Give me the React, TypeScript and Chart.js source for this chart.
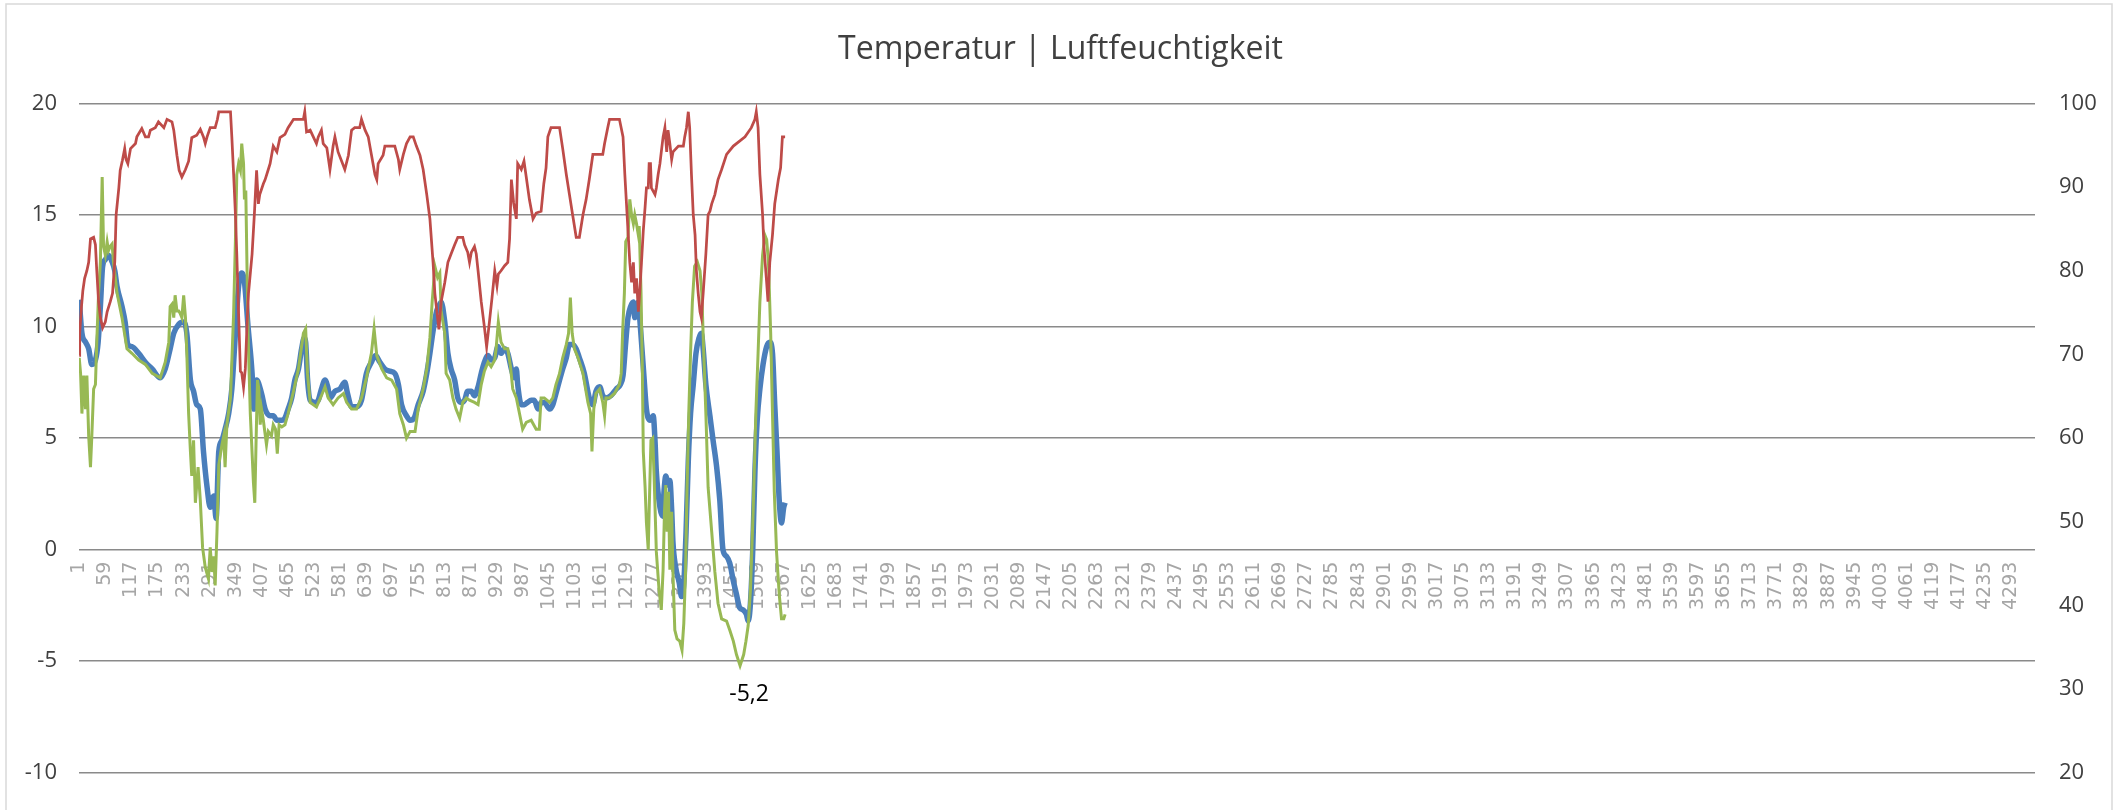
import React, { useEffect, useRef } from "react";
import { Chart, registerables } from "chart.js";

Chart.register(...registerables);

const TITLE = "Temperatur | Luftfeuchtigkeit";
const N_CATEGORIES = 4345;

const X_TICKS = [
  1, 59, 117, 175, 233, 291, 349, 407, 465, 523, 581, 639, 697, 755, 813, 871, 929, 987, 1045, 1103,
  1161, 1219, 1277, 1335, 1393, 1451, 1509, 1567, 1625, 1683, 1741, 1799, 1857, 1915, 1973, 2031,
  2089, 2147, 2205, 2263, 2321, 2379, 2437, 2495, 2553, 2611, 2669, 2727, 2785, 2843, 2901, 2959,
  3017, 3075, 3133, 3191, 3249, 3307, 3365, 3423, 3481, 3539, 3597, 3655, 3713, 3771, 3829, 3887,
  3945, 4003, 4061, 4119, 4177, 4235, 4293,
];

const LEFT_TICKS = [-10, -5, 0, 5, 10, 15, 20];
const RIGHT_TICKS = [20, 30, 40, 50, 60, 70, 80, 90, 100];

// Temperatur (blau)
const BLUE_X = [
  1, 7, 15, 22, 29, 37, 43, 48, 53, 59, 66, 74, 80, 85, 96, 103, 109, 118, 133, 148,
  163, 181, 192, 203, 211, 222, 233, 240, 248, 255, 262, 270, 277, 285, 292, 300, 305, 311, 318, 325,
  333, 340, 348, 355, 362, 368, 376, 385, 389, 395,
  406, 414, 425, 432, 440, 451, 458, 465, 473, 480, 488, 495, 501, 504, 508, 514, 525, 532, 539, 547,
  553, 558, 569, 580, 591, 597, 606, 617, 628, 639, 650, 659, 669, 680, 691, 702, 710, 717, 728, 736,
  745, 754, 765, 773, 780, 787, 795, 802,
  805, 813, 820, 827, 835, 842, 850, 857, 864, 872, 879, 887, 894, 901, 909, 916, 924, 931, 938, 946,
  953, 961, 968, 972, 975, 983, 990, 997, 1005, 1012, 1020, 1027, 1034, 1046, 1053, 1060, 1068, 1075, 1083, 1090,
  1097, 1105, 1112, 1123, 1134, 1142, 1149, 1157, 1164, 1171, 1182, 1194,
  1203, 1209, 1215, 1220, 1226, 1232, 1235, 1239, 1243, 1246, 1250, 1255, 1261, 1269, 1276, 1280, 1283, 1291, 1297, 1300,
  1304, 1309, 1313, 1317, 1320, 1326, 1334, 1339, 1344, 1349, 1354, 1359, 1365, 1371, 1378, 1383, 1387, 1393, 1402, 1409,
  1417, 1424, 1431, 1439, 1446, 1454, 1461, 1468, 1476, 1483, 1487, 1492, 1497, 1502, 1507, 1513, 1520, 1528, 1535, 1541,
  1546, 1551, 1556, 1561, 1566, 1569,
];
const BLUE_Y = [
  11.2, 9.7, 9.3, 9.0, 8.3, 8.5, 9.3, 10.9, 12.7, 13.0, 13.2, 12.9, 12.5, 11.8, 10.9, 10.2, 9.2, 9.1, 8.8, 8.4,
  8.1, 7.7, 8.1, 9.0, 9.7, 10.1, 10.2, 9.7, 7.6, 7.1, 6.5, 6.3, 4.4, 2.8, 1.9, 2.4, 1.4, 4.4, 4.9, 5.4,
  6.1, 7.2, 9.7, 11.8, 12.4, 12.0, 10.0, 7.9, 6.3, 7.6,
  7.0, 6.3, 6.0, 6.0, 5.8, 5.8, 5.9, 6.3, 6.8, 7.6, 8.1, 9.0, 9.5, 9.3, 7.7, 6.7, 6.6, 6.7, 7.2, 7.6,
  7.3, 6.8, 7.1, 7.2, 7.5, 7.0, 6.4, 6.4, 6.7, 7.9, 8.4, 8.7, 8.4, 8.1, 8.0, 7.9, 7.4, 6.5, 6.0, 5.8,
  5.9, 6.5, 7.1, 7.9, 8.8, 9.8, 10.7, 11.0,
  11.1, 10.2, 8.8, 8.1, 7.6, 6.8, 6.6, 6.7, 7.1, 7.1, 6.9, 7.3, 7.9, 8.4, 8.7, 8.5, 8.6, 9.1, 8.8, 9.0,
  8.8, 8.1, 7.7, 8.1, 7.4, 6.5, 6.5, 6.6, 6.7, 6.7, 6.3, 6.6, 6.6, 6.3, 6.5, 7.0, 7.6, 8.1, 8.6, 9.2,
  9.2, 9.0, 8.6, 7.9, 6.8, 6.5, 7.1, 7.3, 6.9, 6.8, 6.9, 7.2,
  7.4, 7.8, 9.3, 10.4, 10.9, 11.1, 10.4, 10.7, 11.1, 10.4, 9.3, 7.9, 6.3, 5.8, 6.0, 4.9, 3.5, 1.9, 1.5, 2.6,
  3.3, 2.9, 3.1, 1.8, 0.3, -0.8, -1.5, -2.1, -1.5, 0.8, 4.0, 6.1, 7.4, 8.8, 9.5, 9.7, 9.0, 7.4, 6.0, 4.9,
  3.7, 2.2, 0.0, -0.3, -0.6, -1.4, -2.0, -2.6, -2.7, -2.9, -3.2, -2.4, -0.1, 3.5, 5.8, 7.2, 8.3, 9.1, 9.3, 8.8,
  6.5, 4.4, 2.2, 1.2, 1.9, 2.1,
];

// Temperatur (grün)
const GREEN_X = [
  1, 4, 7, 11, 15, 18, 22, 26, 29, 33, 37, 40, 44, 48, 52, 55, 59, 63, 66, 70,
  74, 77, 85, 96, 107, 118, 133, 148, 163, 181, 192, 200, 203, 207, 211, 214, 218, 222, 225, 229,
  233, 237, 240, 244, 248, 251, 255, 259, 265, 270, 275, 281, 288, 292, 296, 300, 303, 307, 311, 318,
  322, 325, 329, 337, 344, 348, 351, 355, 359, 362, 366, 368, 371, 376, 381, 388, 391, 394, 397, 400,
  403, 406, 410, 417, 421, 428, 432, 437, 441, 445, 451, 458, 465, 477, 488, 499, 504, 508, 514, 528,
  539, 547, 554, 565, 576, 588, 595, 606, 617, 628, 639, 650, 656, 662, 673, 684, 695, 706, 713, 721,
  728, 736, 747, 754, 765, 773, 780, 785, 791, 797, 802,
  805, 813, 816, 824, 831, 838, 846, 853, 861, 868, 879, 887, 894, 901, 909, 916, 924, 927, 932, 938,
  946, 953, 959, 964, 972, 979, 986, 994, 1005, 1016, 1023, 1027, 1034, 1046, 1053, 1060, 1068, 1075, 1083, 1088,
  1092, 1096, 1101, 1109, 1120, 1131, 1137, 1140, 1144, 1149, 1157, 1164, 1168, 1171, 1179, 1190, 1201,
  1205, 1208, 1212, 1215, 1220, 1224, 1228, 1232, 1235, 1239, 1243, 1245, 1249, 1252, 1254, 1258, 1261, 1265, 1267, 1271,
  1275, 1278, 1283, 1289, 1294, 1298, 1301, 1304, 1307, 1310, 1313, 1317, 1320, 1324, 1329, 1335, 1340, 1344, 1348, 1351,
  1355, 1359, 1363, 1368, 1374, 1380, 1384, 1388, 1393, 1398, 1406, 1413, 1420, 1428, 1439, 1446, 1454, 1461, 1469, 1477,
  1482, 1487, 1492, 1498, 1504, 1509, 1513, 1519, 1524, 1528, 1532, 1537, 1541, 1545, 1550, 1556, 1561, 1566, 1569,
];
const GREEN_Y = [
  8.6, 7.9, 6.1, 7.8, 6.3, 7.8, 5.1, 3.7, 5.1, 7.2, 7.4, 9.3, 11.5, 12.9, 16.7, 13.6, 13.2, 13.8, 13.4, 13.6,
  13.7, 12.9, 11.5, 10.4, 9.0, 8.8, 8.5, 8.3, 7.9, 7.7, 8.4, 9.3, 10.9, 11.0, 10.4, 11.4, 10.7, 10.7, 10.6, 10.4,
  11.4, 10.4, 8.8, 6.1, 4.4, 3.3, 4.9, 2.1, 3.7, 2.2, 0.1, -0.8, -1.3, 0.1, -1.0, -0.3, -1.6, 0.8, 3.8, 4.7,
  5.1, 3.7, 5.6, 6.8, 10.6, 13.9, 16.8, 17.3, 17.0, 18.2, 17.3, 15.7, 16.1, 9.7, 6.1, 3.0, 2.1, 5.0, 7.6, 7.2,
  5.6, 6.3, 5.8, 4.7, 5.3, 5.1, 5.6, 5.4, 4.3, 5.6, 5.5, 5.6, 6.1, 7.1, 8.1, 9.7, 9.9, 7.9, 6.6, 6.4,
  6.9, 7.3, 6.8, 6.5, 6.8, 7.0, 6.6, 6.3, 6.3, 6.8, 7.7, 8.8, 9.9, 8.7, 8.1, 7.7, 7.6, 7.2, 6.1, 5.6,
  5.0, 5.3, 5.3, 6.3, 7.2, 8.1, 9.5, 11.1, 12.7, 12.2, 12.4,
  10.7, 9.7, 7.9, 7.6, 6.8, 6.3, 5.9, 6.6, 6.8, 6.7, 6.6, 6.5, 7.4, 8.0, 8.4, 8.2, 8.5, 9.0, 10.2, 9.3,
  9.0, 9.0, 8.2, 7.2, 6.8, 6.1, 5.4, 5.7, 5.8, 5.4, 5.4, 6.8, 6.8, 6.6, 6.8, 7.4, 7.9, 8.6, 9.2, 9.7,
  11.3, 9.7, 9.0, 8.6, 7.9, 6.6, 6.1, 4.4, 6.3, 7.0, 7.2, 6.6, 6.0, 6.8, 6.8, 7.0, 7.4,
  7.9, 9.7, 11.5, 13.8, 14.0, 15.7, 15.0, 14.6, 15.0, 14.6, 14.1, 14.5, 11.5, 7.9, 4.4, 2.8, 1.2, 0.0, 1.7, 4.9,
  5.0, 3.3, -0.1, -1.8, -2.7, -0.9, 1.7, 2.9, 0.8, 2.6, -0.9, 1.7, -1.1, -3.6, -4.0, -4.1, -4.5, -3.3, -0.9, 2.6,
  6.1, 8.8, 11.1, 12.7, 12.9, 12.5, 11.5, 9.0, 6.1, 2.8, 0.8, -1.0, -2.4, -3.1, -3.2, -3.6, -4.1, -4.7, -5.2, -4.7,
  -4.1, -3.4, -1.8, 1.7, 6.1, 8.8, 11.1, 13.2, 14.1, 13.9, 12.9, 9.7, 6.1, 2.6, -0.1, -2.0, -3.1, -3.1, -2.9,
];

// Luftfeuchtigkeit (rot, rechte Achse)
const RED_X = [
  1, 2, 6, 9, 13, 18, 22, 26, 33, 37, 40, 44, 48, 53, 59, 63, 70, 75, 80, 83,
  89, 92, 97, 102, 105, 109, 115, 126, 129, 140, 148, 155, 159, 170, 177, 189, 196, 207, 211, 218,
  223, 229, 237, 244, 251, 262, 270, 277, 281, 285, 292, 303, 308, 311, 337, 340, 344, 348, 351, 355,
  359, 362, 366, 370, 374, 377, 385, 390, 395, 399,
  402, 410, 414, 421, 425, 432, 440, 447, 458, 465, 477, 499, 502, 506, 514, 521, 528, 532, 539, 543,
  551, 558, 565, 569, 576, 584, 591, 599, 606, 613, 624, 628, 636, 643, 650, 658, 662, 665, 676, 680,
  702, 710, 713, 721, 728, 736, 743, 750, 758, 765, 773, 780, 787, 791, 797, 800,
  805, 813, 820, 827, 835, 842, 853, 857, 864, 868, 872, 879, 883, 887, 894, 901, 906, 912, 918, 924,
  929, 932, 938, 946, 953, 957, 961, 966, 972, 975, 983, 989, 994, 1001, 1009, 1016, 1027, 1033, 1038, 1042,
  1049, 1068, 1075, 1083, 1090, 1097, 1105, 1112, 1120, 1127, 1134, 1142, 1164, 1168, 1175, 1179, 1201,
  1209, 1213, 1218, 1224, 1228, 1232, 1235, 1239, 1243, 1246, 1250, 1254, 1258, 1261, 1265, 1267, 1270, 1272, 1280, 1283,
  1287, 1291, 1294, 1298, 1302, 1306, 1309, 1313, 1317, 1320, 1332, 1343, 1346, 1350, 1354, 1357, 1361, 1365, 1369, 1372,
  1376, 1380, 1383, 1387, 1393, 1398, 1402, 1406, 1413, 1420, 1428, 1439, 1454, 1480, 1494, 1502, 1505, 1509, 1513, 1519,
  1522, 1528, 1531, 1535, 1541, 1546, 1554, 1559, 1563, 1569,
];
const RED_Y = [
  69.9, 72.5, 75.7, 77.6, 79.1, 80, 81, 83.8, 84, 83.1, 80, 76.3, 74.4, 73.2, 73.9, 75.1, 76.3, 77.3, 81.1, 86.7,
  89.9, 92, 93.2, 94.6, 93.3, 92.8, 94.6, 95.2, 96, 97, 96, 96, 96.8, 97.1, 97.8, 97.1, 98.1, 97.8, 96.8, 93.8,
  92, 91.2, 92.1, 93.1, 95.9, 96.2, 96.9, 96, 95.2, 96, 97.1, 97.1, 98.1, 99, 99, 96, 91.5, 86.7, 82, 74.9,
  68, 67.8, 66.1, 68.3, 73.9, 77.3, 82, 86.7, 92, 88,
  89.1, 90.4, 90.9, 92.1, 92.8, 94.9, 94.2, 95.9, 96.3, 97.1, 98.1, 98.1, 99, 96.6, 96.8, 96, 95.2, 96, 96.8, 95.2,
  94.7, 92.1, 94.9, 96, 94.2, 93.1, 92.1, 93.8, 96.8, 97.1, 97.1, 98.1, 96.8, 96, 93.9, 91.5, 90.9, 92.8, 93.8, 94.9,
  94.9, 93.3, 92.1, 93.9, 95.2, 96, 96, 94.9, 93.8, 92.1, 89.1, 86.2, 81, 77.3, 74.4, 73.0,
  76.3, 78.6, 81, 82, 83.1, 84, 84, 83.1, 82.2, 81, 82.2, 82.9, 82, 80, 76.3, 73.3, 70.9, 73.8, 76.8, 80,
  78.2, 79.6, 80, 80.6, 81, 83.8, 90.9, 88.1, 86.2, 92.8, 92.1, 93.1, 91.2, 88.5, 86.2, 86.9, 87.1, 90.4, 92.3, 96,
  97.1, 97.1, 94.6, 91.5, 89.1, 86.7, 84, 84, 86.7, 88.5, 90.9, 93.9, 93.9, 95.2, 97.1, 98.1, 98.1,
  96, 91.5, 86.7, 81, 78.6, 81, 77.3, 79.1, 75.1, 77.3, 81, 84.8, 87.6, 89.9, 89.9, 92.8, 92.8, 89.9, 89.1, 89.9,
  91.5, 92.8, 94.2, 96, 97.1, 94.2, 96.8, 95.2, 93.3, 94.2, 94.9, 94.9, 96, 97.1, 99, 97.1, 91.5, 86.7, 84.3, 80,
  77.3, 75.1, 74.4, 77.3, 82, 86.7, 87.1, 88, 89.1, 90.9, 92.1, 93.9, 94.9, 96, 97.1, 98.1, 99, 97.1, 91.5, 86.7,
  82.9, 78.6, 76.3, 81, 84.3, 88, 90.9, 92.3, 96, 96,
];

const COLOR_BLUE = "#4A7EBB";
const COLOR_GREEN = "#98B954";
const COLOR_RED = "#BE4B48";
const TEXT_DARK = "#404040";
const TEXT_X = "#A6A6A6";
const GRID = "#8A8A8A";

const toPoints = (xs: number[], ys: number[]) => xs.map((x, i) => ({ x, y: ys[i] }));

const framePlugin = {
  id: "frame",
  beforeDraw(chart: any) {
    const { ctx, width, height } = chart;
    ctx.save();
    ctx.fillStyle = "#ffffff";
    ctx.fillRect(0, 0, width, height);
    ctx.strokeStyle = "#D9D9D9";
    ctx.lineWidth = 1.5;
    ctx.strokeRect(6, 4, 2106, height + 20);
    ctx.restore();
  },
};

const minLabelPlugin = {
  id: "minLabel",
  afterDatasetsDraw(chart: any) {
    const minVal = Math.min(...GREEN_Y);
    const i = GREEN_Y.indexOf(minVal);
    const px = chart.scales.x.getPixelForValue(GREEN_X[i]);
    const py = chart.scales.y.getPixelForValue(GREEN_Y[i]);
    const { ctx } = chart;
    ctx.save();
    ctx.font = '23px "Open Sans"';
    ctx.fillStyle = "#000000";
    ctx.textAlign = "center";
    ctx.textBaseline = "middle";
    ctx.fillText(String(minVal).replace(".", ","), px + 9, py + 29);
    ctx.restore();
  },
};

export default function App() {
  const ref = useRef<HTMLCanvasElement | null>(null);

  useEffect(() => {
    if (!ref.current) return;
    const chart = new Chart(ref.current, {
      type: "line",
      data: {
        datasets: [
          {
            label: "Luftfeuchtigkeit",
            data: toPoints(RED_X, RED_Y),
            yAxisID: "y1",
            borderColor: COLOR_RED,
            borderWidth: 2.75,
            pointRadius: 0,
            tension: 0,
            order: 0,
          },
          {
            label: "Temperatur 2",
            data: toPoints(GREEN_X, GREEN_Y),
            yAxisID: "y",
            borderColor: COLOR_GREEN,
            borderWidth: 3,
            pointRadius: 0,
            tension: 0,
            order: 1,
          },
          {
            label: "Temperatur",
            data: toPoints(BLUE_X, BLUE_Y),
            yAxisID: "y",
            borderColor: COLOR_BLUE,
            borderWidth: 5.5,
            pointRadius: 0,
            cubicInterpolationMode: "monotone",
            order: 2,
          },
        ],
      } as any,
      options: {
        animation: false,
        responsive: false,
        events: [],
        layout: { padding: { top: 0, bottom: 28, left: 0, right: 0 } },
        plugins: {
          legend: { display: false },
          tooltip: { enabled: false },
          title: {
            display: true,
            text: TITLE,
            color: TEXT_DARK,
            font: { family: "Open Sans", size: 32, weight: "normal" },
            padding: { top: 31, bottom: 34 },
          },
        },
        scales: {
          x: {
            type: "linear",
            min: 0.5,
            max: N_CATEGORIES + 0.5,
            position: { y: 0 } as any,
            grid: { display: false },
            border: { display: false },
            afterBuildTicks: (s: any) => {
              s.ticks = X_TICKS.map((v) => ({ value: v }));
            },
            afterFit: (s: any) => {
              s.height = 0;
            },
            ticks: {
              autoSkip: false,
              maxRotation: 90,
              minRotation: 90,
              color: TEXT_X,
              font: { family: "DejaVu Sans", size: 19 },
              padding: 4,
              callback: (v: any) => String(v),
            },
          },
          y: {
            position: "left",
            min: -10,
            max: 20,
            afterBuildTicks: (s: any) => {
              s.ticks = LEFT_TICKS.map((v) => ({ value: v }));
            },
            afterFit: (s: any) => {
              s.width = 79;
            },
            grid: { color: GRID, lineWidth: 1.5, drawTicks: false },
            border: { display: false },
            ticks: {
              color: TEXT_DARK,
              font: { family: "Open Sans", size: 22 },
              padding: 22,
              callback: (v: any) => String(v),
            },
          },
          y1: {
            position: "right",
            min: 20,
            max: 100,
            afterBuildTicks: (s: any) => {
              s.ticks = RIGHT_TICKS.map((v) => ({ value: v }));
            },
            afterFit: (s: any) => {
              s.width = 86;
            },
            grid: { drawOnChartArea: false, drawTicks: false, display: false },
            border: { display: false },
            ticks: {
              color: TEXT_DARK,
              font: { family: "Open Sans", size: 22 },
              padding: 24,
              callback: (v: any) => String(v),
            },
          },
        },
      } as any,
      plugins: [framePlugin, minLabelPlugin],
    });
    return () => chart.destroy();
  }, []);

  return (
    <div style={{ position: "absolute", left: 0, top: 0, width: 2121, height: 810 }}>
      <canvas ref={ref} width={2121} height={810} style={{ display: "block", width: 2121, height: 810 }} />
    </div>
  );
}
